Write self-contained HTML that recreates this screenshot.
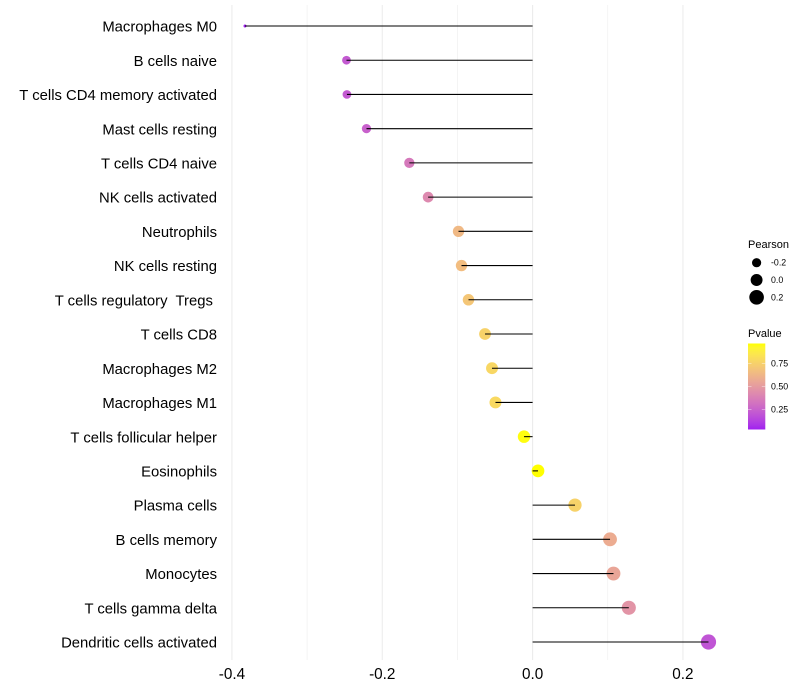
<!DOCTYPE html>
<html>
<head>
<meta charset="utf-8">
<title>Immune cell correlation lollipop chart</title>
<style>
html,body{margin:0;padding:0;background:#fff;width:800px;height:700px;overflow:hidden}
svg{display:block}
text{font-family:"Liberation Sans",Arial,sans-serif;white-space:pre}
</style>
</head>
<body>
<svg id="chart" xmlns="http://www.w3.org/2000/svg" width="800" height="700" viewBox="0 0 800 700">
<defs><linearGradient id="pgrad" x1="0" y1="1" x2="0" y2="0"></linearGradient></defs>
</svg>
<script>
const categories = ["Macrophages M0","B cells naive","T cells CD4 memory activated","Mast cells resting","T cells CD4 naive","NK cells activated","Neutrophils","NK cells resting","T cells regulatory  Tregs ","T cells CD8","Macrophages M2","Macrophages M1","T cells follicular helper","Eosinophils","Plasma cells","B cells memory","Monocytes","T cells gamma delta","Dendritic cells activated"];
const pearson = [-0.3826,-0.2476,-0.247,-0.221,-0.164,-0.139,-0.0986,-0.0946,-0.0853,-0.0633,-0.054,-0.0494,-0.0114,0.0072,0.0564,0.103,0.1076,0.128,0.234];
const pvalue = [0.034,0.22,0.22,0.25,0.35,0.42,0.64,0.66,0.7,0.76,0.78,0.79,0.96,0.968,0.76,0.58,0.55,0.47,0.2];
const xTicks = [-0.4,-0.2,0.0,0.2];
const xMinorTicks = [-0.3,-0.1,0.1];
const sizeLegend = [-0.2,0.0,0.2];
const colorLegend = [0.25,0.5,0.75];

const svg = document.getElementById('chart');
const NS = 'http://www.w3.org/2000/svg';
function mk(tag, attrs, parent){
  const e = document.createElementNS(NS, tag);
  for (const k in attrs) e.setAttribute(k, attrs[k]);
  (parent || svg).appendChild(e);
  return e;
}
const xScale = v => 532.6 + v * 751.7;
const yScale = i => 26 + i * 34.222;
const pMin = 0.034, pMax = 0.968;
const minP = Math.min(...pearson), maxP = Math.max(...pearson);
const rScale = v => 1.5 + 6.1 * Math.sqrt(Math.max(0, (v - minP) / (maxP - minP)));

function toLab(r,g,b){
  const f = c => { c/=255; return c<=0.04045 ? c/12.92 : Math.pow((c+0.055)/1.055,2.4); };
  const R=f(r),G=f(g),B=f(b);
  const X=(0.4124*R+0.3576*G+0.1805*B)/0.95047,Y=0.2126*R+0.7152*G+0.0722*B,Z=(0.0193*R+0.1192*G+0.9505*B)/1.08883;
  const h = t => t>0.008856 ? Math.cbrt(t) : 7.787*t+16/116;
  return [116*h(Y)-16,500*(h(X)-h(Y)),200*(h(Y)-h(Z))];
}
function fromLab(L,a,b){
  const fy=(L+16)/116,fx=fy+a/500,fz=fy-b/200;
  const h = t => t*t*t>0.008856 ? t*t*t : (t-16/116)/7.787;
  const X=h(fx)*0.95047,Y=h(fy),Z=h(fz)*1.08883;
  const g = c => { c=Math.max(0,Math.min(1,c)); return Math.round(255*(c<=0.0031308?12.92*c:1.055*Math.pow(c,1/2.4)-0.055)); };
  return 'rgb('+g(3.2406*X-1.5372*Y-0.4986*Z)+','+g(-0.9689*X+1.8758*Y+0.0415*Z)+','+g(0.0557*X-0.2040*Y+1.0570*Z)+')';
}
const labLow = toLab(160,32,240), labHigh = toLab(255,255,0);
function colorScale(p){
  const t = Math.max(0, Math.min(1, (p - pMin) / (pMax - pMin)));
  return fromLab(labLow[0]+(labHigh[0]-labLow[0])*t, labLow[1]+(labHigh[1]-labLow[1])*t, labLow[2]+(labHigh[2]-labLow[2])*t);
}

/* gridlines */
xMinorTicks.forEach(v => {
  const l = mk('line',{x1:xScale(v),x2:xScale(v),y1:5,y2:660,stroke:'#f0f0f0','stroke-width':0.7});
  
  
});
xTicks.forEach(v => {
  const l = mk('line',{x1:xScale(v),x2:xScale(v),y1:5,y2:660,stroke:'#ebebeb','stroke-width':1.05});
  
  
});

/* points then stems */
categories.forEach((c,i) => {
  const dot = mk('circle',{cx:xScale(pearson[i]),cy:yScale(i),r:rScale(pearson[i]),fill:colorScale(pvalue[i])});
  
  
});
categories.forEach((c,i) => {
  const stem = mk('line',{x1:xScale(0),x2:xScale(pearson[i]),y1:yScale(i),y2:yScale(i),stroke:'#000','stroke-width':1.05});
  
  
  const lab = mk('text',{x:217,y:yScale(i)+5.6,'text-anchor':'end','font-size':14.85,fill:'#000'});
  lab.textContent = c;
  
  
});

/* x tick labels */
xTicks.forEach(v => {
  const t = mk('text',{x:xScale(v),y:679,'text-anchor':'middle','font-size':15.3,fill:'#000'});
  t.textContent = v.toFixed(1);
  
  
});

/* size legend */
const sizeTitle = mk('text',{x:748,y:248,'font-size':11,fill:'#000'});
sizeTitle.textContent = 'Pearson';


sizeLegend.forEach((v,i) => {
  const cy = 262.7 + i * 17.3;
  const d = mk('circle',{cx:756.6,cy:cy,r:4.6 + i * 1.35,fill:'#000'});
  
  
  const t = mk('text',{x:771,y:cy+3,'font-size':8.8,fill:'#000'});
  t.textContent = v.toFixed(1);
  
  
});

/* colour legend */
const grad = document.getElementById('pgrad');
for (let k = 0; k <= 20; k++) {
  mk('stop',{offset:(k*5)+'%','stop-color':colorScale(pMin+(pMax-pMin)*k/20)},grad);
}
const colorTitle = mk('text',{x:748,y:337,'font-size':11,fill:'#000'});
colorTitle.textContent = 'Pvalue';


const barTop = 343.5, barBottom = 429.5, barX = 748, barW = 17.3;
const bar = mk('rect',{x:barX,y:barTop,width:barW,height:barBottom-barTop,fill:'url(#pgrad)'});


colorLegend.forEach(v => {
  const y = barBottom - (v - pMin) / (pMax - pMin) * (barBottom - barTop);
  const a = mk('line',{x1:barX,x2:barX+3.5,y1:y,y2:y,stroke:'#fff','stroke-width':0.5,'stroke-opacity':0.8});
  
  
  const b = mk('line',{x1:barX+barW-3.5,x2:barX+barW,y1:y,y2:y,stroke:'#fff','stroke-width':0.5,'stroke-opacity':0.8});
  
  
  const t = mk('text',{x:771,y:y+3,'font-size':8.8,fill:'#000'});
  t.textContent = v.toFixed(2);
  
  
});
</script>
</body>
</html>
